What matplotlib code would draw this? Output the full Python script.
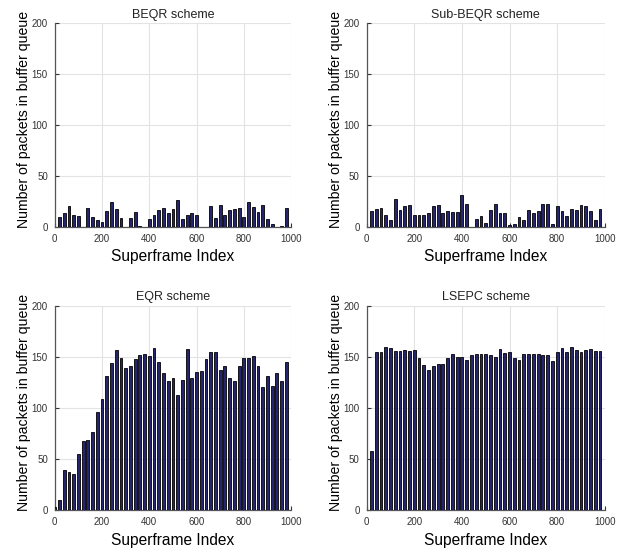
"""
Buffer queue occupancy per superframe for four scheduling schemes.
"""

import numpy as np
import matplotlib.pyplot as plt

plt.rcParams["font.family"] = ["Liberation Sans", "DejaVu Sans"]

superframes = np.arange(0, 1000, 20)

beqr = [0, 10, 13, 20, 12, 11, 0, 18, 10, 7,
        5, 15, 24, 17, 9, 0, 9, 14, 1, 0,
        8, 12, 16, 18, 13, 17, 26, 8, 12, 13,
        12, 0, 0, 20, 9, 21, 12, 16, 17, 18,
        10, 24, 19, 14, 21, 8, 3, 0, 1, 18]

sub_beqr = [0, 15, 17, 18, 12, 7, 27, 16, 20, 21,
            12, 12, 12, 13, 20, 21, 13, 15, 14, 14,
            31, 22, 0, 8, 11, 4, 16, 22, 13, 13,
            2, 3, 10, 7, 16, 13, 15, 22, 22, 3,
            20, 15, 11, 17, 16, 21, 20, 15, 7, 17]

eqr = [3, 10, 39, 37, 35, 55, 68, 69, 76, 96,
       109, 131, 144, 157, 149, 139, 141, 148, 152, 153,
       151, 159, 145, 134, 126, 129, 113, 127, 158, 129,
       135, 136, 148, 155, 155, 137, 141, 129, 126, 141,
       149, 149, 151, 141, 120, 131, 121, 134, 126, 145]

lsepc = [0, 58, 155, 155, 160, 159, 156, 156, 157, 156,
         157, 149, 142, 137, 141, 143, 143, 149, 153, 150,
         150, 147, 152, 153, 153, 153, 152, 150, 158, 154,
         155, 149, 147, 153, 153, 153, 153, 152, 152, 146,
         155, 159, 155, 160, 157, 155, 157, 158, 156, 156]

panels = [("BEQR scheme", beqr), ("Sub-BEQR scheme", sub_beqr),
          ("EQR scheme", eqr), ("LSEPC scheme", lsepc)]

fig = plt.figure(figsize=(6.3, 5.49), dpi=100)
positions = [[0.087, 0.587, 0.375, 0.371], [0.582, 0.587, 0.378, 0.371],
             [0.087, 0.071, 0.375, 0.372], [0.582, 0.071, 0.378, 0.372]]

for (title, values), pos in zip(panels, positions):
    ax = fig.add_axes(pos)
    ax.bar(superframes, values, width=12, color="#26266e",
           edgecolor="black", linewidth=0.6, zorder=3)
    ax.set_xlim(0, 1000)
    ax.set_ylim(0, 200)
    ax.set_xticks(np.arange(0, 1001, 200))
    ax.set_yticks(np.arange(0, 201, 50))
    ax.grid(True, color="#e3e3e3", linewidth=0.8, zorder=0)
    for side in ["top", "right"]:
        ax.spines[side].set_visible(False)
    for side in ["left", "bottom"]:
        ax.spines[side].set_color("#555555")
        ax.spines[side].set_linewidth(0.9)
    ax.tick_params(direction="in", length=3, labelsize=7, pad=5,
                   colors="#333333", labelcolor="#333333")
    ax.set_title(title, fontsize=9, color="#222222", pad=4)
    ax.set_xlabel("Superframe Index", fontsize=11.2, labelpad=4)
    ax.set_ylabel("Number of packets in buffer queue", fontsize=10.2)
    ax.yaxis.set_label_coords(-0.10, 0.525)

plt.savefig("out.png", dpi=100)
